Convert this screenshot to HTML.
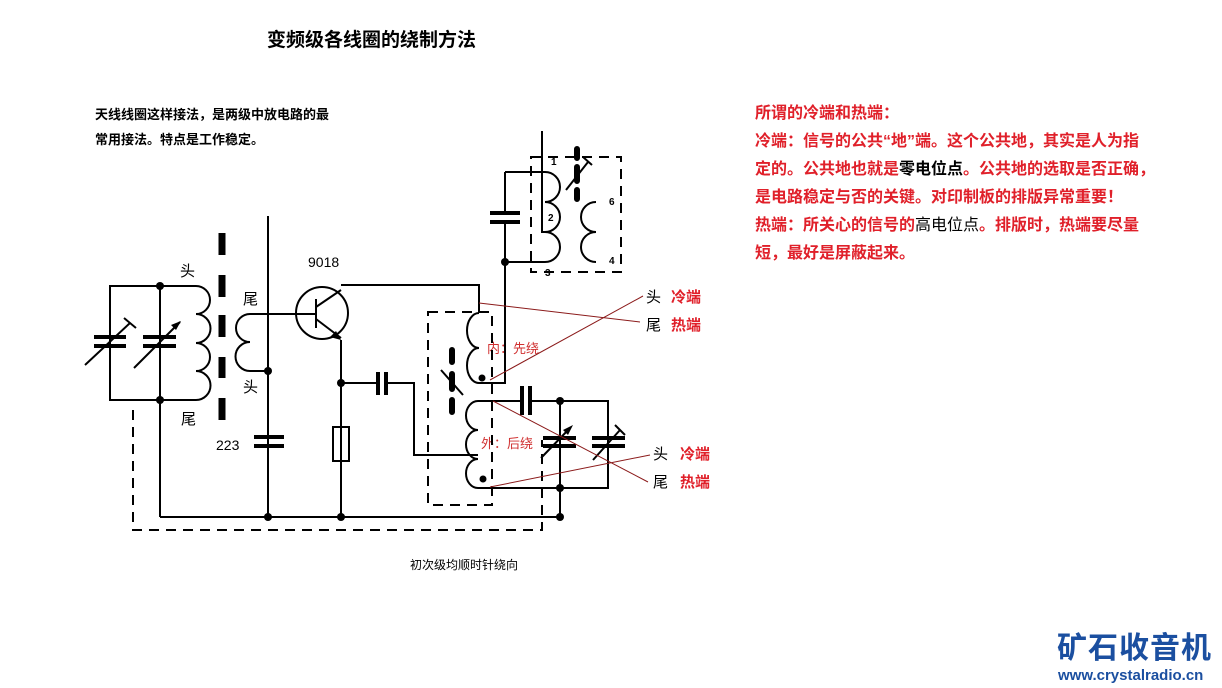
<!DOCTYPE html>
<html><head><meta charset="utf-8"><style>
body{margin:0;width:1222px;height:688px;background:#fff;overflow:hidden}
svg{position:absolute;left:0;top:0}
text{font-family:"Liberation Sans","Noto Sans CJK SC",sans-serif}
</style></head><body>
<svg width="1222" height="688" viewBox="0 0 1222 688">
<g font-weight="bold">
<text x="267" y="46" font-size="19">变频级各线圈的绕制方法</text>
<text x="95" y="119" font-size="13">天线线圈这样接法，是两级中放电路的最</text>
<text x="95" y="144" font-size="13">常用接法。特点是工作稳定。</text>
<text x="410" y="569" font-size="12" font-weight="normal">初次级均顺时针绕向</text>
</g>
<g font-size="16" font-weight="bold" fill="#e0202a">
<text x="755" y="118">所谓的冷端和热端：</text>
<text x="755" y="146">冷端：信号的公共“地”端。这个公共地，其实是人为指</text>
<text x="755" y="174">定的。公共地也就是<tspan fill="#000">零电位点</tspan>。公共地的选取是否正确，</text>
<text x="755" y="202">是电路稳定与否的关键。对印制板的排版异常重要！</text>
<text x="755" y="230">热端：所关心的信号的<tspan fill="#000" font-weight="normal">高电位点</tspan>。排版时，热端要尽量</text>
<text x="755" y="258">短，最好是屏蔽起来。</text>
</g>
<g font-size="15">
<text x="180" y="276">头</text><text x="243" y="304">尾</text><text x="243" y="392">头</text><text x="181" y="424">尾</text>
<text x="308" y="267" font-size="14">9018</text><text x="216" y="450" font-size="14">223</text>
<text x="646" y="302">头</text><text x="646" y="330">尾</text><text x="653" y="459">头</text><text x="653" y="487">尾</text>
</g>
<g font-size="15" font-weight="bold" fill="#e0202a">
<text x="671" y="302">冷端</text><text x="671" y="330">热端</text><text x="680" y="459">冷端</text><text x="680" y="487">热端</text>
</g>
<g font-size="13" fill="#d03030"><text x="487" y="353">内：先绕</text><text x="481" y="448">外：后绕</text></g>
<g font-size="10" font-weight="bold"><text x="551" y="165">1</text><text x="548" y="221">2</text><text x="545" y="276">3</text><text x="609" y="205">6</text><text x="609" y="264">4</text></g>
<g stroke="#000" stroke-width="2" fill="none">
<path d="M196 286H110V400H196M160 286V517M268 216V517M160 517H560"/>
<path d="M196 286a14 14 0 0 1 0 28a14 14 0 0 1 0 29a14 14 0 0 1 0 28a14 14 0 0 1 0 29"/>
<path d="M250 314a14 14 0 0 0 0 28a14 14 0 0 0 0 29H268M250 314H316"/>
<circle cx="322" cy="313" r="26"/>
<path d="M341 285H479V313M341 340V517M341 383H378M386 383H414V455H478M333 427h16v34h-16z"/>
<path d="M479 313a12 17.5 0 0 0 0 35a12 17.5 0 0 0 0 35H505V262"/>
<path d="M478 401a12 14.5 0 0 0 0 29a12 14.5 0 0 0 0 29a12 14.5 0 0 0 0 29H608V401H530M522 401H478M560 401V517"/>
<path d="M505 172H545M505 172V213M505 222V262H545M542 131V232H545"/>
<path d="M545 172a15 15 0 0 1 0 30a15 15 0 0 1 0 30a15 15 0 0 1 0 30"/>
<path d="M596 202a15 15 0 0 0 0 30a15 15 0 0 0 0 30"/>
<path d="M316 299V328M316 307L341 290M316 319L341 338"/>
<path d="M85 365L130 323M124 318L136 328M134 368L180 322"/>
<path d="M541 458L570 428M593 460L620 430M615 425L625 435"/>
</g>
<polygon points="181,321 171,325 176,330" fill="#000"/>
<polygon points="341,340 330,337 336,331" fill="#000"/>
<polygon points="573,425 563,430 568,435" fill="#000"/>
<g stroke="#000" stroke-width="4">
<path d="M94 337H126M94 346H126M143 337H176M143 346H176M254 437H284M254 446H284M378 372V395M386 372V395M522 386V415M530 386V415M490 213H520M490 222H520M543 438H576M543 446H576M592 438H625M592 446H625"/>
</g>
<g stroke="#000" stroke-width="7">
<path d="M222 233V255M222 275V297M222 315V337M222 357V378M222 398V420"/>
</g>
<g stroke="#000" stroke-width="6" stroke-linecap="round">
<path d="M452 350V362M452 374V389M452 400V412M577 149V158M577 167V181M577 190V199"/>
</g>
<path d="M441 370L463 395M566 190L588 162M583 157L592 165" stroke="#000" stroke-width="2"/>
<g fill="#000"><circle cx="160" cy="286" r="4"/><circle cx="160" cy="400" r="4"/><circle cx="268" cy="371" r="4"/><circle cx="268" cy="517" r="4"/><circle cx="341" cy="383" r="4"/><circle cx="341" cy="517" r="4"/><circle cx="505" cy="262" r="4"/><circle cx="560" cy="401" r="4"/><circle cx="560" cy="488" r="4"/><circle cx="560" cy="517" r="4"/><circle cx="482" cy="378" r="3.5"/><circle cx="483" cy="479" r="3.5"/></g>
<g stroke="#000" stroke-width="2" fill="none" stroke-dasharray="10,7">
<path d="M133 410V530H542V440"/>
<path d="M428 312H492V505H428Z"/>
<path d="M531 157H621V272H531Z"/>
</g>
<g stroke="#8b1a1a" stroke-width="1">
<path d="M479 303L640 322M490 380L643 296M493 401L648 482M490 487L650 455"/>
</g>
<text x="1057" y="658" font-size="30" font-weight="bold" fill="#1b4fa0" letter-spacing="1">矿石收音机</text>
<text x="1058" y="680" font-size="15" font-weight="bold" fill="#1b4fa0">www.crystalradio.cn</text>
</svg>
</body></html>
